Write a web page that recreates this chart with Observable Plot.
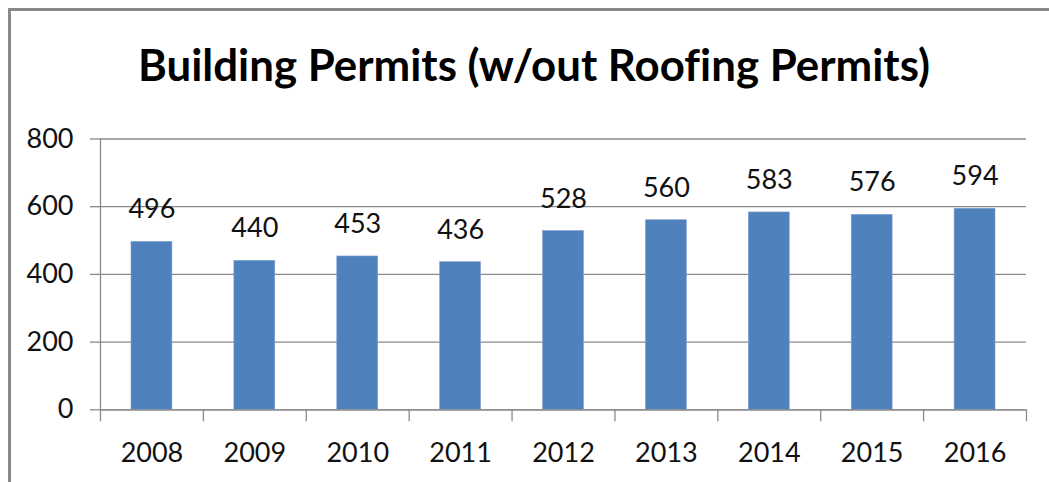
<!DOCTYPE html>
<html>
<head>
<meta charset="utf-8">
<script src="https://cdn.jsdelivr.net/npm/d3@7"></script>
<script src="https://cdn.jsdelivr.net/npm/@observablehq/plot@0.6"></script>
<style>
  html, body { margin: 0; padding: 0; background: #fff; overflow: hidden; width: 1049px; height: 482px; }
  #frame { position: absolute; left: 8px; top: 8px; width: 1100px; height: 520px;
           border-left: 3px solid #898989; border-top: 3px solid #898989; box-sizing: border-box; }
  #title { position: absolute; left: 0; top: 0; }
  #title text { font-variant-ligatures: none; font-feature-settings: "liga" 0; letter-spacing: 0.01px; }
  #chart { position: absolute; left: 0; top: 0; }
</style>
</head>
<body>
<div id="frame"></div>
<div id="chart"></div>
<svg id="title" width="1049" height="110">
  <text x="534" y="81" text-anchor="middle" font-family="Lato" font-weight="bold" font-size="43"
        fill="#000" textLength="792" lengthAdjust="spacingAndGlyphs">Building Permits (w/out Roofing Permits)</text>
</svg>
<script>
const years = [2008, 2009, 2010, 2011, 2012, 2013, 2014, 2015, 2016];
const permits = [496, 440, 453, 436, 528, 560, 583, 576, 594];
const yTicks = [0, 200, 400, 600, 800];

const data = years.map((year, i) => ({year, value: permits[i]}));
const boundaries = years.map(y => y - 0.5).concat([years[years.length - 1] + 0.5]);

const font = "Lato";
const chart = Plot.plot({
  width: 1049,
  height: 482,
  marginLeft: 100,
  marginRight: 23,
  marginTop: 138.5,
  marginBottom: 72.7,
  style: {fontFamily: font, fontSize: "27px", color: "#111", background: "transparent"},
  x: {type: "linear", domain: [years[0] - 0.5, years[years.length - 1] + 0.5]},
  y: {domain: [0, 800]},
  marks: [
    Plot.gridY(yTicks, {stroke: "#8a8a8a", strokeOpacity: 1, strokeWidth: 1.3}),
    Plot.rectY(data, {x1: d => d.year - 0.5, x2: d => d.year + 0.5, y: "value",
                      insetLeft: 31, insetRight: 31, fill: "#4F81BD", stroke: "#7ea0cf", strokeWidth: 0.6}),
    Plot.ruleX([years[0] - 0.5], {stroke: "#8a8a8a", strokeWidth: 1.3, y1: 0, y2: 800}),
    Plot.axisY({ticks: yTicks, tickSize: 10, tickPadding: 17, stroke: "#8a8a8a", strokeWidth: 1.3,
                fontSize: 27, fill: "#111", label: null}),
    Plot.axisX({ticks: boundaries, tickSize: 12, tickFormat: () => "", stroke: "#8a8a8a", strokeWidth: 1.3, label: null}),
    Plot.axisX({ticks: years, tickSize: 0, tickPadding: 33, tickFormat: d => String(d),
                fontSize: 27, fill: "#111", label: null}),
    Plot.ruleY([0], {stroke: "#8a8a8a", strokeWidth: 1.3}),
    Plot.text(data, {x: "year", y: "value", text: d => String(d.value), dy: -23.5,
                     lineAnchor: "bottom", fontSize: 27, fill: "#111"})
  ]
});
document.getElementById("chart").appendChild(chart);
</script>
</body>
</html>
